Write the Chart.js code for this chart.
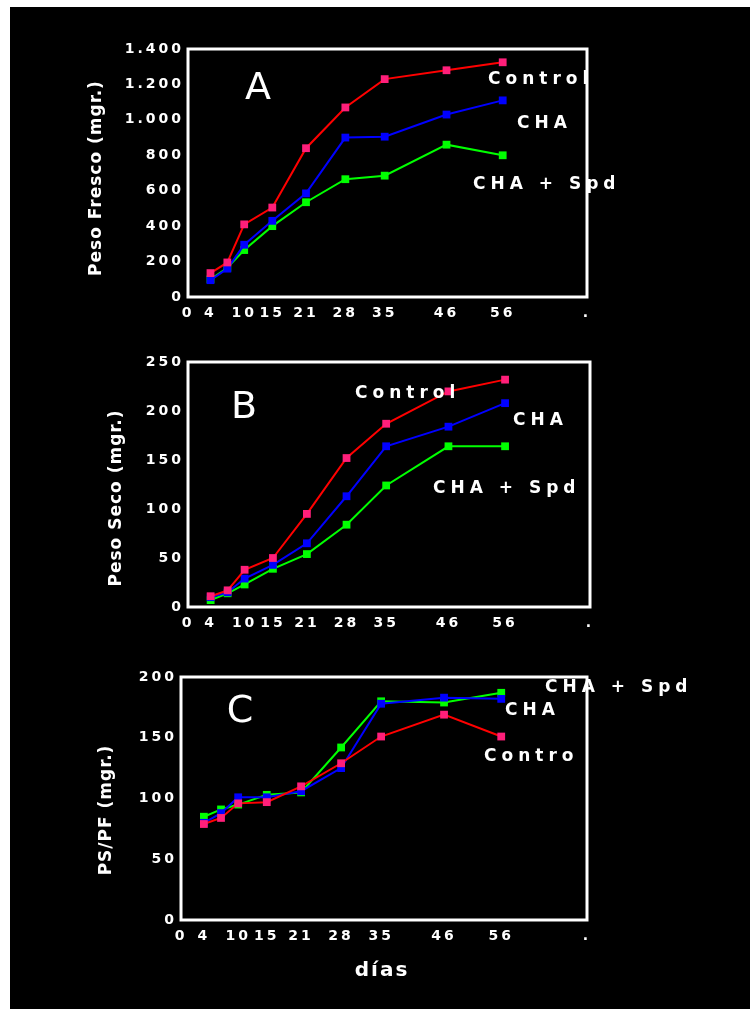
<!DOCTYPE html>
<html>
<head>
<meta charset="utf-8">
<script src="https://cdn.jsdelivr.net/npm/chart.js@4.4.0/dist/chart.umd.min.js"></script>
<style>
  html, body { margin: 0; padding: 0; background: #000; overflow: hidden; }
  #page { position: relative; width: 750px; height: 1009px; overflow: hidden; background: #000; }
  .edge { position: absolute; background: #fff; }
  #edgeTop { left: 0; top: 0; width: 750px; height: 7px; }
  #edgeLeft { left: 0; top: 0; width: 10px; height: 1009px; }
  canvas { position: absolute; left: 0; top: 0; }
</style>
</head>
<body>
<div id="page">
  <div class="edge" id="edgeTop"></div>
  <div class="edge" id="edgeLeft"></div>
  <canvas id="chartA" width="750" height="1009"></canvas>
  <canvas id="chartB" width="750" height="1009"></canvas>
  <canvas id="chartC" width="750" height="1009"></canvas>
</div>
<script>
// sampling days and x axis ticks (shared by the three panels)
const days = [4, 7, 10, 15, 21, 28, 35, 46, 56];
const xTickValues = [0, 4, 10, 15, 21, 28, 35, 46, 56, 71];
const xTickLabels = ['0', '4', '10', '15', '21', '28', '35', '46', '56', '.'];

// A - peso fresco (mgr.)
const frescoControl = [135, 195, 410, 505, 840, 1070, 1230, 1280, 1325];
const frescoCHA = [95, 160, 295, 430, 585, 900, 905, 1030, 1110];
const frescoCHASpd = [100, 165, 265, 400, 535, 665, 685, 860, 800];
const frescoTicks = ['0', '200', '400', '600', '800', '1.000', '1.200', '1.400'];

// B - peso seco (mgr.)
const secoControl = [11, 17, 38, 50, 95, 152, 187, 220, 232];
const secoCHA = [10, 15, 29, 43, 65, 113, 164, 184, 208];
const secoCHASpd = [7, 14, 23, 39, 54, 84, 124, 164, 164];
const secoTicks = ['0', '50', '100', '150', '200', '250'];

// C - PS/PF
const ratioControl = [79, 84, 96, 97, 110, 129, 151, 169, 151];
const ratioCHA = [80, 88, 101, 101, 106, 125, 178, 183, 182];
const ratioCHASpd = [85, 91, 95, 103, 105, 142, 180, 179, 187];
const ratioTicks = ['0', '50', '100', '150', '200'];

const seriesStyle = [
    { label: 'Control', line: '#ff0000', point: '#ff1f7a' },
    { label: 'CHA', line: '#0000ff', point: '#0000ff' },
    { label: 'CHA + Spd', line: '#00ff00', point: '#00ff00' }
];

const tickFont = { family: 'DejaVu Sans', size: 14, weight: 'bold' };

// frame, panel letter, series names and axis titles
const panelText = {
    id: 'panelText',
    beforeDraw(chart) {
        chart.ctx.letterSpacing = '3px';
    },
    afterDraw(chart, args, opts) {
        const ctx = chart.ctx;
        const { left, top, right, bottom } = chart.chartArea;
        ctx.save();
        ctx.strokeStyle = '#fff';
        ctx.lineWidth = 3;
        ctx.strokeRect(left, top, right - left, bottom - top);

        ctx.fillStyle = '#fff';
        ctx.textBaseline = 'middle';

        ctx.letterSpacing = '0px';
        ctx.font = '38px "DejaVu Sans"';
        ctx.textAlign = 'center';
        ctx.fillText(opts.letter.text, opts.letter.x, opts.letter.y);

        ctx.letterSpacing = '5px';
        ctx.font = 'bold 17px "DejaVu Sans"';
        ctx.textAlign = 'left';
        opts.names.forEach(n => ctx.fillText(n.text, n.x, n.y));

        ctx.letterSpacing = '1px';
        ctx.font = 'bold 17px "DejaVu Sans"';
        ctx.textAlign = 'center';
        ctx.save();
        ctx.translate(opts.yTitle.x, opts.yTitle.y);
        ctx.rotate(-Math.PI / 2);
        ctx.fillText(opts.yTitle.text, 0, 0);
        ctx.restore();

        if (opts.xTitle) {
            ctx.letterSpacing = '2px';
            ctx.font = 'bold 20px "DejaVu Sans"';
            ctx.fillText(opts.xTitle.text, opts.xTitle.x, opts.xTitle.y);
        }
        ctx.restore();
    }
};

function makeChart(id, series, yMax, yStep, yTicks, box, text) {
    const ctx = document.getElementById(id).getContext('2d');
    const datasets = series.map((values, k) => ({
        label: seriesStyle[k].label,
        data: days.map((d, i) => ({ x: d, y: values[i] })),
        borderColor: seriesStyle[k].line,
        backgroundColor: seriesStyle[k].point,
        pointBackgroundColor: seriesStyle[k].point,
        pointBorderWidth: 0,
        pointStyle: 'rect',
        pointRadius: 5.5,
        borderWidth: 2,
        tension: 0
    }));

    return new Chart(ctx, {
        type: 'line',
        data: { datasets: datasets },
        options: {
            responsive: false,
            animation: false,
            events: [],
            layout: {
                autoPadding: false,
                padding: { left: 0, top: box.top, right: 750 - box.right, bottom: 1009 - box.bottom - 30 }
            },
            plugins: {
                legend: { display: false },
                tooltip: { enabled: false },
                panelText: text
            },
            scales: {
                x: {
                    type: 'linear',
                    min: 0,
                    max: 71,
                    afterBuildTicks: scale => { scale.ticks = xTickValues.map(v => ({ value: v })); },
                    afterFit: scale => { scale.height = 30; },
                    grid: { display: false, drawTicks: false },
                    border: { display: false },
                    ticks: {
                        autoSkip: false,
                        maxRotation: 0,
                        color: '#fff',
                        font: tickFont,
                        padding: 8,
                        callback: (v, i) => xTickLabels[i]
                    }
                },
                y: {
                    min: 0,
                    max: yMax,
                    afterFit: scale => { scale.width = box.left; },
                    grid: { display: false, drawTicks: false },
                    border: { display: false },
                    ticks: {
                        stepSize: yStep,
                        color: '#fff',
                        font: tickFont,
                        padding: 4,
                        callback: (v, i) => yTicks[i]
                    }
                }
            }
        },
        plugins: [panelText]
    });
}

makeChart('chartA', [frescoControl, frescoCHA, frescoCHASpd], 1400, 200, frescoTicks,
    { left: 188, top: 49, right: 587, bottom: 297 },
    {
        letter: { text: 'A', x: 258, y: 89 },
        names: [
            { text: 'Control', x: 488, y: 80 },
            { text: 'CHA', x: 517, y: 124 },
            { text: 'CHA + Spd', x: 473, y: 185 }
        ],
        yTitle: { text: 'Peso Fresco (mgr.)', x: 97, y: 178 }
    });

makeChart('chartB', [secoControl, secoCHA, secoCHASpd], 250, 50, secoTicks,
    { left: 188, top: 362, right: 590, bottom: 607 },
    {
        letter: { text: 'B', x: 244, y: 408 },
        names: [
            { text: 'Control', x: 355, y: 394 },
            { text: 'CHA', x: 513, y: 421 },
            { text: 'CHA + Spd', x: 433, y: 489 }
        ],
        yTitle: { text: 'Peso Seco (mgr.)', x: 117, y: 498 }
    });

makeChart('chartC', [ratioControl, ratioCHA, ratioCHASpd], 200, 50, ratioTicks,
    { left: 181, top: 677, right: 587, bottom: 920 },
    {
        letter: { text: 'C', x: 240, y: 712 },
        names: [
            { text: 'CHA + Spd', x: 545, y: 688 },
            { text: 'CHA', x: 505, y: 711 },
            { text: 'Contro', x: 484, y: 757 }
        ],
        yTitle: { text: 'PS/PF (mgr.)', x: 107, y: 810 },
        xTitle: { text: 'días', x: 382, y: 971 }
    });
</script>
</body>
</html>
